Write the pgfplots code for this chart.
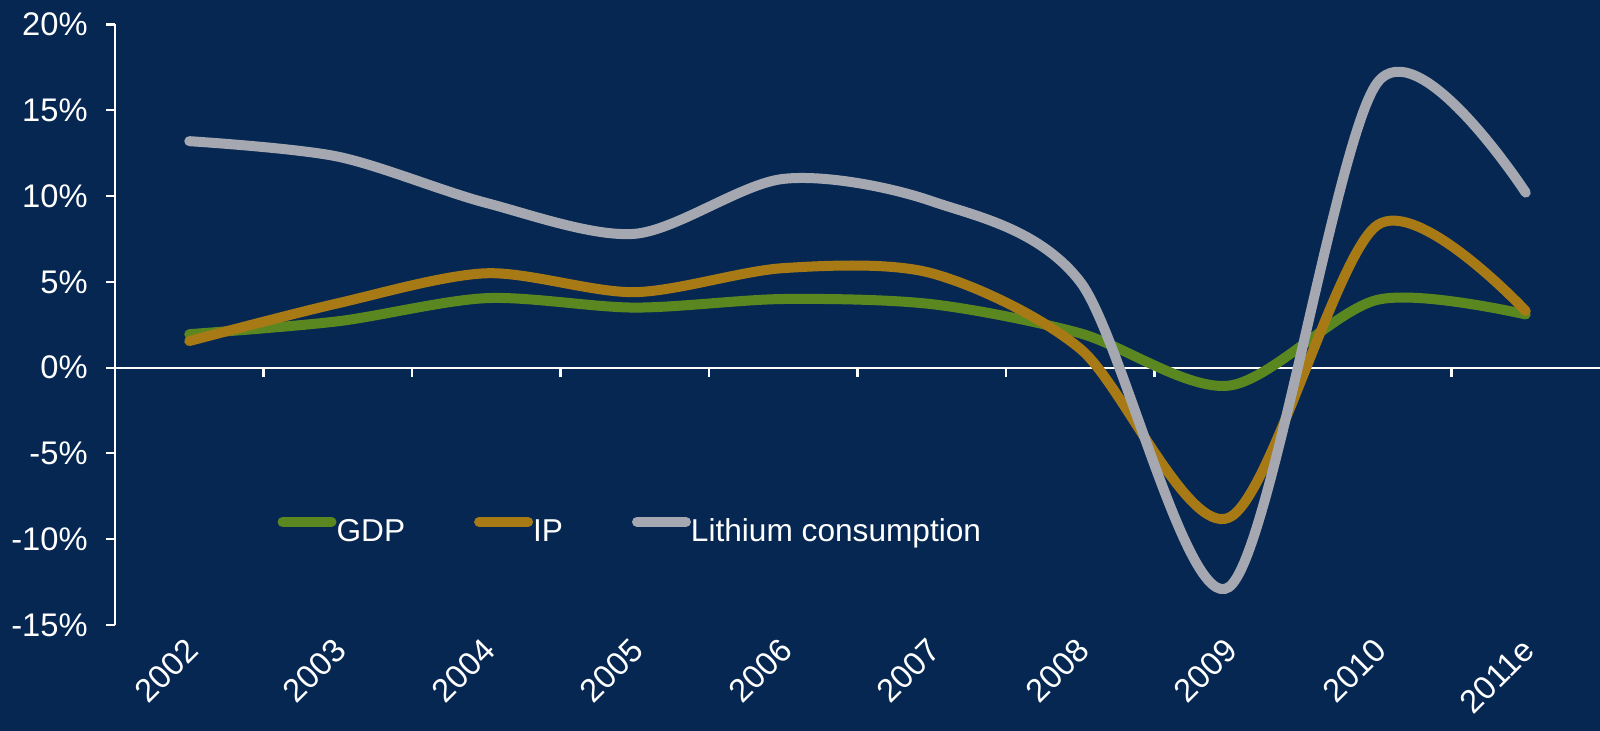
\documentclass[border=0pt]{standalone}
\usepackage{fontspec}
\setmainfont{Liberation Sans}
\usepackage{pgfplots}
\pgfplotsset{compat=1.18}

\definecolor{navy}{RGB}{5,39,82}
\definecolor{gdp}{RGB}{91,135,32}
\definecolor{ip}{RGB}{168,122,22}
\definecolor{lith}{RGB}{165,168,176}

\begin{document}
\begin{tikzpicture}
  \useasboundingbox (0,0) rectangle (16cm,7.31cm);
  \fill[navy] (0,0) rectangle (16cm,7.31cm);
  \begin{axis}[
    at={(1.15cm,1.06cm)}, anchor=south west,
    width=14.85cm, height=6.005cm, scale only axis,
    xmin=-0.5, xmax=9.5,
    ymin=-15, ymax=20,
    axis x line*=bottom, axis y line*=left,
    x axis line style={draw=none},
    y axis line style={white, line width=0.6pt},
    xtick={0,...,9},
    xticklabels={2002,2003,2004,2005,2006,2007,2008,2009,2010,2011e},
    xtick style={draw=none},
    ytick={-15,-10,...,20},
    yticklabels={-15\%,-10\%,-5\%,0\%,5\%,10\%,15\%,20\%},
    ytick style={white, line width=0.6pt},
    tick align=outside, major tick length=0.09cm,
    every tick label/.append style={font=\fontsize{9.3}{10}\selectfont, text=white},
    yticklabel style={xshift=-0.06cm},
    xticklabel style={xshift=-0.055cm, yshift=-0.02cm, rotate=45, anchor=north east, inner sep=0pt},
    clip=false,
    legend columns=3,
    legend style={at={(0.109,0.155)}, anchor=west, draw=none, fill=none,
      inner sep=0pt, font=\fontsize{9}{10}\selectfont, text=white,
      nodes={inner sep=0pt},
      /tikz/every even column/.append style={column sep=0.69cm}},
    legend image code/.code={
      \draw[#1, line width=0.1cm, line cap=round] (0.05cm,0.11cm) -- (0.54cm,0.11cm);
    },
    every axis plot/.append style={line width=0.1cm, line cap=round, smooth, tension=0.5},
  ]
    % zero line with ticks between categories
    \draw[white, line width=0.6pt] (axis cs:-0.5,0) -- (axis cs:9.5,0);
    \pgfplotsinvokeforeach{0.5,1.5,2.5,3.5,4.5,5.5,6.5,7.5,8.5}{
      \draw[white, line width=0.6pt] (axis cs:#1,0) -- ([yshift=-0.09cm]axis cs:#1,0);
    }
    \addplot[gdp] coordinates {
      (0,1.95) (1,2.7) (2,4.05) (3,3.5) (4,4.0) (5,3.7) (6,2.0) (7,-1.05) (8,3.95) (9,3.1)
    };
    \addlegendentry{GDP}
    \addplot[ip] coordinates {
      (0,1.55) (1,3.75) (2,5.5) (3,4.4) (4,5.8) (5,5.5) (6,1.1) (7,-8.75) (8,8.3) (9,3.3)
    };
    \addlegendentry{IP}
    \addplot[lith] coordinates {
      (0,13.2) (1,12.3) (2,9.6) (3,7.8) (4,11.0) (5,9.7) (6,5.0) (7,-12.8) (8,16.6) (9,10.2)
    };
    \addlegendentry{Lithium consumption}
  \end{axis}
\end{tikzpicture}
\end{document}
